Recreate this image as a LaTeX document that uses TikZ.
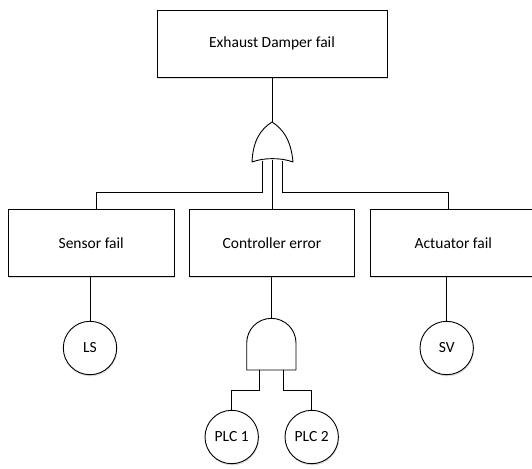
\documentclass[tikz,border=0pt]{standalone}
\usepackage{fontspec}
\setmainfont{Carlito}
\usetikzlibrary{calc,shadows}
\begin{document}
\begin{tikzpicture}[x=1pt,y=-1pt,
  line width=0.9pt,
  softshadow/.style={drop shadow={shadow xshift=0.6pt,shadow yshift=-1.6pt,fill=black!30,opacity=0.45}},
  event/.style={draw,fill=white,softshadow,minimum height=67pt,inner sep=0pt,
    font=\fontsize{15.5}{18}\selectfont},
  basic/.style={draw,fill=white,circle,softshadow,minimum size=53.4pt,inner sep=0pt,
    font=\fontsize{15.5}{18}\selectfont},
  gate/.style={draw,fill=white,line join=round}]
\clip (0,0) rectangle (532,468);
\useasboundingbox (0,0) rectangle (532,468);
\fill[white] (0,0) rectangle (532,468);

% events
\node[event,minimum width=230pt] (top) at (272,43.5) {Exhaust Damper fail};
\node[event,minimum width=165.7pt] (sensor) at (91.2,242.7) {Sensor fail};
\node[event,minimum width=165.7pt] (ctrl) at (272,242.7) {Controller error};
\node[event,minimum width=165.7pt] (act) at (453.3,242.7) {Actuator fail};

% basic events
\node[basic] (ls) at (90,348) {LS};
\node[basic] (sv) at (446.7,348) {SV};
\node[basic] (plc1) at (231.7,437) {PLC 1};
\node[basic] (plc2) at (311.7,437) {PLC 2};

% OR gate
\coordinate (ortop) at (272,122);
\coordinate (orin1) at (262,160.6);
\coordinate (orin2) at (272,160);
\coordinate (orin3) at (282,160.6);
\draw[gate] (252,162) .. controls (253,140) and (261,129) .. (ortop)
  .. controls (283,129) and (291,140) .. (293,162)
  .. controls (281,157.5) and (264,157.5) .. cycle;

% AND gate
\coordinate (andtop) at (271.35,318.35);
\coordinate (andin1) at (259,370);
\coordinate (andin2) at (283.7,370);
\draw[gate] (246.7,370) -- (246.7,343)
  .. controls (246.7,329.4) and (257.7,318.35) .. (andtop)
  .. controls (285,318.35) and (296,329.4) .. (296,343)
  -- (296,370) -- cycle;

% connectors
\draw (top.south) -- (ortop);
\draw (orin2) -- (ctrl.north);
\draw (orin1) -- ++(0,31.7) -| ([xshift=5.5pt]sensor.north);
\draw (orin3) -- ++(0,31.7) -| ([xshift=-5pt]act.north);
\draw (ls.north |- sensor.south) -- (ls.north);
\draw (andtop |- ctrl.south) -- (andtop);
\draw (sv.north |- act.south) -- (sv.north);
\draw (andin1) -- ++(0,20.7) -| (plc1.north);
\draw (andin2) -- ++(0,20.7) -| (plc2.north);
\end{tikzpicture}
\end{document}
